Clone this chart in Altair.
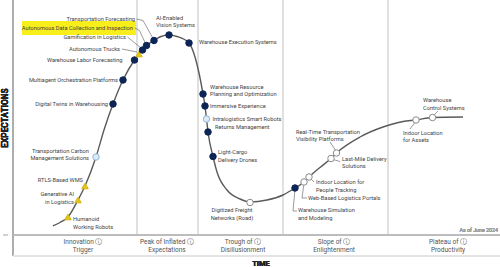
import altair as alt
import pandas as pd

# ---------------- data ----------------
# time / expectation units: 487 time units across, 235 expectation units high
tech_names = [
    "Humanoid Working Robots", "Generative AI in Logistics", "RTLS-Based WMS",
    "Transportation Carbon Management Solutions", "Digital Twins in Warehousing",
    "Multiagent Orchestration Platforms", "Warehouse Labor Forecasting",
    "Autonomous Trucks", "Gamification in Logistics",
    "Autonomous Data Collection and Inspection", "Transportation Forecasting",
    "AI-Enabled Vision Systems", "Warehouse Execution Systems",
    "Warehouse Resource Planning and Optimization", "Immersive Experience",
    "Intralogistics Smart Robots", "Returns Management",
    "Light-Cargo Delivery Drones", "Digitized Freight Networks (Road)",
    "Warehouse Simulation and Modeling", "Web-Based Logistics Portals",
    "Indoor Location for People Tracking", "Last-Mile Delivery Solutions",
    "Real-Time Transportation Visibility Platforms", "Indoor Location for Assets",
    "Warehouse Control Systems",
]
tech_time = [55, 65, 72, 83, 100, 110, 121.5, 126, 129.5, 133.5, 141, 156, 176,
             190, 192, 193.5, 195, 200, 237, 282, 291, 296, 318, 323.5, 403, 419.5]
tech_expect = [18, 35, 49, 78, 131, 155, 175, 181, 185, 189.5, 194.5, 200, 192,
               141, 129, 116, 103, 78.5, 32.5, 47, 53, 58, 76.5, 82, 115, 117.5]
# years to plateau: lt2 = less than 2 years, 2to5, 5to10, gt10 = more than 10 years
tech_maturity = ["gt10", "gt10", "gt10", "2to5", "5to10", "5to10", "5to10",
                 "gt10", "5to10", "5to10", "5to10", "5to10", "5to10",
                 "5to10", "5to10", "2to5", "5to10", "5to10", "lt2",
                 "5to10", "lt2", "lt2", "lt2", "lt2", "lt2", "lt2"]

curve_time = [40, 47, 55, 65, 72, 83, 91, 100, 110, 121.5, 126, 129.5, 133.5, 141,
              148, 156, 164, 176, 182, 186, 190, 192, 193.5, 195, 200, 204, 214,
              227, 237, 254, 270, 282, 291, 296, 307, 318, 323.5, 347, 370, 390,
              403, 419.5, 450]
curve_expect = [9, 12.5, 18, 35, 49, 78, 105, 131, 155, 175, 181, 185, 189.5, 194.5,
                198.5, 200, 198.5, 192, 178, 162, 141, 129, 116, 103, 78.5, 63, 45,
                36, 33, 35, 40, 47, 53, 58, 67.5, 76.5, 82, 98, 108, 113.5,
                115, 117.5, 118]

phase_top = ["Innovation \u24d8", "Peak of Inflated \u24d8", "Trough of \u24d8",
             "Slope of \u24d8", "Plateau of \u24d8"]
phase_bottom = ["Trigger", "Expectations", "Disillusionment", "Enlightenment",
                "Productivity"]
phase_label_time = [70, 154, 230, 321, 435]
phase_boundaries = [124, 185, 270, 375]

# ---------------- layout (pixel offsets of labels from their points) -------
W, H = 487, 235
LINE = 7.5
layout = {
    "Humanoid Working Robots": (5, 2, "left", ["Humanoid", "Working Robots"], []),
    "Generative AI in Logistics": (-4, -6, "right", ["Generative AI", "in Logistics"], []),
    "RTLS-Based WMS": (-2, -6, "right", ["RTLS-Based WMS"], []),
    "Transportation Carbon Management Solutions": (-7, -6.3, "right",
        ["Transportation Carbon", "Management Solutions"], []),
    "Digital Twins in Warehousing": (-5, 0, "right", ["Digital Twins in Warehousing"], []),
    "Multiagent Orchestration Platforms": (-5, 0, "right", ["Multiagent Orchestration Platforms"], []),
    "Warehouse Labor Forecasting": (-12, 0, "right", ["Warehouse Labor Forecasting"], []),
    "Autonomous Trucks": (-19, -5, "right", ["Autonomous Trucks"], [(-17, -5), (-2, -2)]),
    "Gamification in Logistics": (-16.5, -13, "right", ["Gamification in Logistics"],
        [(-15, -13), (-1.5, -2)]),
    "Autonomous Data Collection and Inspection": (-13.5, -17.5, "right",
        ["Autonomous Data Collection and Inspection"], [(-11.5, -17.5), (-7, -15), (-1, -2)]),
    "Transportation Forecasting": (-19, -21.5, "right", ["Transportation Forecasting"],
        [(-17.5, -21.5), (-11, -20), (-1.5, -3)]),
    "AI-Enabled Vision Systems": (-13, -17.5, "left", ["AI-Enabled", "Vision Systems"], []),
    "Warehouse Execution Systems": (10, -1, "left", ["Warehouse Execution Systems"], []),
    "Warehouse Resource Planning and Optimization": (7, -7.3, "left",
        ["Warehouse Resource", "Planning and Optimization"], []),
    "Immersive Experience": (5, 0, "left", ["Immersive Experience"], []),
    "Intralogistics Smart Robots": (6, 0, "left", ["Intralogistics Smart Robots"], []),
    "Returns Management": (7, -5, "left", ["Returns Management"], []),
    "Light-Cargo Delivery Drones": (5, -4.5, "left", ["Light-Cargo", "Delivery Drones"], []),
    "Digitized Freight Networks (Road)": (-18, 7.5, "center",
        ["Digitized Freight", "Networks (Road)"], []),
    "Warehouse Simulation and Modeling": (3, 22, "left", ["Warehouse Simulation", "and Modeling"],
        [(0, 1), (-2, 23), (2, 23)]),
    "Web-Based Logistics Portals": (4, 15.7, "left", ["Web-Based Logistics Portals"],
        [(0, 1), (-2, 16), (3, 16)]),
    "Indoor Location for People Tracking": (7, 5, "left", ["Indoor Location for", "People Tracking"],
        [(1, 1), (5, 5)]),
    "Last-Mile Delivery Solutions": (11, 0, "left", ["Last-Mile Delivery", "Solutions"],
        [(2, 1), (9, 3)]),
    "Real-Time Transportation Visibility Platforms": (-40.5, -21.3, "left",
        ["Real-Time Transportation", "Visibility Platforms"], [(-6.5, -11), (-0.5, -2)]),
    "Indoor Location for Assets": (-13, 12.7, "left", ["Indoor Location", "for Assets"],
        [(0, 1), (-6, 9)]),
    "Warehouse Control Systems": (-9.5, -17.5, "left", ["Warehouse", "Control Systems"],
        [(0.5, -1.5), (5.5, -6.5)]),
}
HIGHLIGHT = "Autonomous Data Collection and Inspection"

# ---------------- build tables ----------------
tech = pd.DataFrame({"name": tech_names, "t": tech_time, "e": tech_expect,
                     "maturity": tech_maturity})
curve = pd.DataFrame({"t": curve_time, "e": curve_expect})

label_rows, leader_rows, hl_rows = [], [], []
for name, t, e in zip(tech_names, tech_time, tech_expect):
    dx, dy, align, lines, leader = layout[name]
    for i, line in enumerate(lines):
        label_rows.append({"text": line, "t": t + dx, "e": e - (dy + i * LINE), "align": align})
    for (ax, ay), (bx, by) in zip(leader[:-1], leader[1:]):
        leader_rows.append({"t": t + ax, "e": e - ay, "t2": t + bx, "e2": e - by})
    if name == HIGHLIGHT:
        hl_rows.append({"t": t + dx - 111, "t2": t + dx + 3, "e": e - dy + 7, "e2": e - dy - 7})
labels = pd.DataFrame(label_rows)
leaders = pd.DataFrame(leader_rows)
highlight = pd.DataFrame(hl_rows)
phases = pd.DataFrame({"top": phase_top, "bottom": phase_bottom, "t": phase_label_time})
bounds = pd.DataFrame({"t": phase_boundaries})

xs = alt.Scale(domain=[0, W], nice=False, zero=False)
ys = alt.Scale(domain=[0, H], nice=False, zero=False)
X = lambda f: alt.X(f, type="quantitative", scale=xs, axis=None)
Y = lambda f: alt.Y(f, type="quantitative", scale=ys, axis=None)

FONT = "Roboto"
TXT = "#3f3f3f"

dividers = alt.Chart(bounds).mark_rule(color="#d6d6d6", strokeWidth=1.5).encode(
    x=X("t"), y=alt.value(0), y2=alt.value(H))
left_border = alt.Chart(bounds).mark_rule(color="#a8a8a8", strokeWidth=1).encode(
    x=alt.value(0), y=alt.value(0), y2=alt.value(256))
base_line = alt.Chart(bounds).mark_rule(color="#b8b8b8", strokeWidth=1).encode(
    x=alt.value(0), x2=alt.value(W), y=alt.value(H))
band_line = alt.Chart(bounds).mark_rule(color="#e2e2e2", strokeWidth=1).encode(
    x=alt.value(0), x2=alt.value(W), y=alt.value(256))
tick = alt.Chart(bounds).mark_rule(color="#cfcfcf", strokeWidth=1).encode(
    x=alt.value(-10), x2=alt.value(-5), y=alt.value(H))

hl = alt.Chart(highlight).mark_rect(color="#f7ee1c").encode(
    x=X("t"), x2="t2", y=Y("e"), y2="e2")

line = alt.Chart(curve).mark_line(interpolate="monotone", color="#5a5a5a",
                                  strokeWidth=1.4).encode(x=X("t"), y=Y("e"))

lead = alt.Chart(leaders).mark_rule(color="#707070", strokeWidth=0.7).encode(
    x=X("t"), y=Y("e"), x2="t2", y2="e2")

mat_domain = ["lt2", "2to5", "5to10", "gt10"]
points = alt.Chart(tech).mark_point(filled=True, size=42, strokeWidth=1, opacity=1).encode(
    x=X("t"), y=Y("e"),
    fill=alt.Fill("maturity:N", scale=alt.Scale(domain=mat_domain,
                  range=["#ffffff", "#dcebf7", "#0c2556", "#e3c619"]), legend=None),
    stroke=alt.Stroke("maturity:N", scale=alt.Scale(domain=mat_domain,
                      range=["#8a8a8a", "#8db7dc", "#0c2556", "#d4b514"]), legend=None),
    shape=alt.Shape("maturity:N", scale=alt.Scale(domain=mat_domain,
                    range=["circle", "circle", "circle", "triangle-up"]), legend=None),
)

def text_layer(align):
    return alt.Chart(labels).transform_filter(alt.datum.align == align).mark_text(
        align=align, baseline="middle", font=FONT, fontSize=5.7, color=TXT).encode(
        x=X("t"), y=Y("e"), text="text:N")

phase_top_txt = alt.Chart(phases).mark_text(font=FONT, fontSize=6.5, color="#555",
                                            baseline="middle").encode(
    x=X("t"), y=alt.value(242), text="top:N")
phase_bot_txt = alt.Chart(phases).mark_text(font=FONT, fontSize=6.5, color="#555",
                                            baseline="middle").encode(
    x=X("t"), y=alt.value(249.5), text="bottom:N")

ytitle = alt.Chart(bounds).mark_text(text="EXPECTATIONS", angle=270, font=FONT,
                                     fontSize=8.3, fontWeight="bold", color="#222",
                                     baseline="middle").encode(
    x=alt.value(-7), y=alt.value(118))
xtitle = alt.Chart(bounds).mark_text(text="TIME", font=FONT, fontSize=7.5,
                                     fontWeight="bold", color="#222",
                                     baseline="middle").encode(
    x=alt.value(248), y=alt.value(264))
asof = alt.Chart(bounds).mark_text(text="As of June 2024", font=FONT, fontSize=5.3,
                                   color="#9a9a9a", align="right",
                                   baseline="middle").encode(
    x=alt.value(485), y=alt.value(230))

chart = alt.layer(
    dividers, left_border, base_line, band_line, tick, hl, line, lead, points,
    text_layer("left"), text_layer("right"), text_layer("center"),
    phase_top_txt, phase_bot_txt, ytitle, xtitle, asof,
).properties(
    width=W, height=H, autosize=alt.AutoSizeParams(type="none"),
    padding={"left": 13, "top": 0, "right": 0, "bottom": 32},
    background="white",
).configure_view(stroke=None)

chart.save("out.html", embed_options={"renderer": "svg", "actions": False})
